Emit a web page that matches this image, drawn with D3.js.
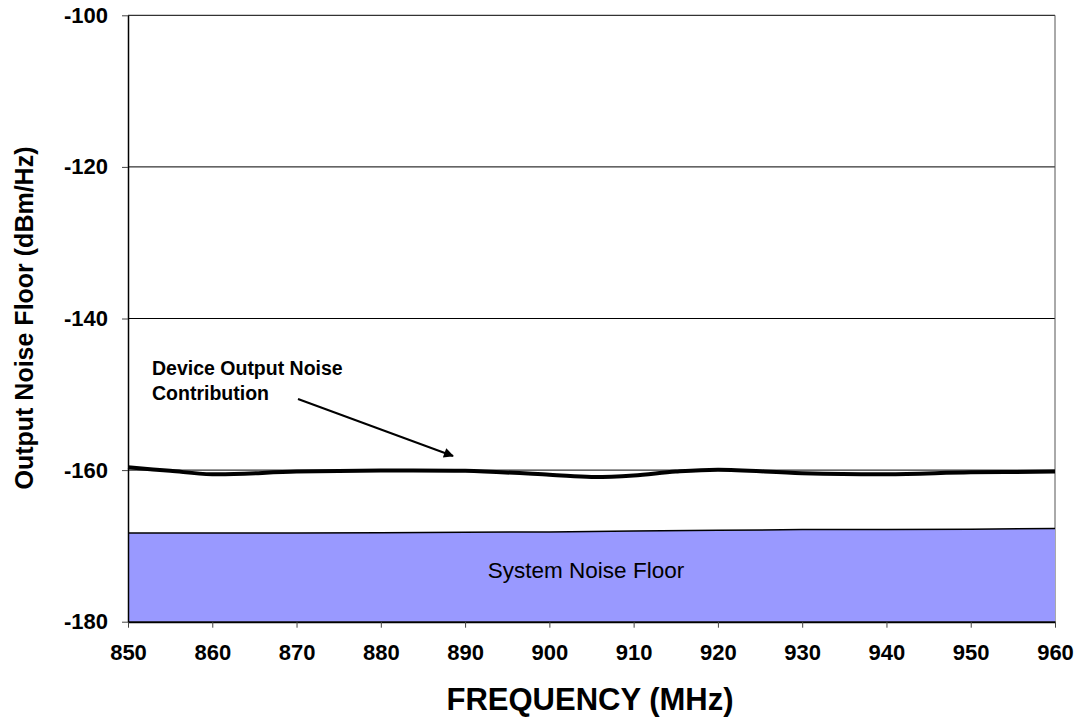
<!DOCTYPE html>
<html><head><meta charset="utf-8">
<script src="https://cdn.jsdelivr.net/npm/d3@7"></script>
<style>
body{margin:0;background:#fff;}
svg{font-family:"Liberation Sans",Arial,sans-serif;}
</style></head>
<body><svg id="c" width="1076" height="717"></svg>
<script>
const freqs = [850,855,860,870,880,890,900,905,910,915,920,930,940,950,960];
const deviceNoise = [-159.63,-160.1,-160.55,-160.2,-160.05,-160.1,-160.6,-160.9,-160.7,-160.2,-159.95,-160.4,-160.55,-160.3,-160.2];
const sysFreqs = [850,860,870,880,890,900,910,920,930,940,950,960];
const systemFloor = [-168.3,-168.3,-168.3,-168.25,-168.2,-168.15,-168.05,-167.95,-167.85,-167.85,-167.8,-167.7];
const xTicks = [850,860,870,880,890,900,910,920,930,940,950,960];
const yTicks = [-100,-120,-140,-160,-180];

const svg = d3.select("#c");
const L=128, R=1055, T=15.3, B=621.7;
const x = d3.scaleLinear().domain([850,960]).range([L,R]);
const y = d3.scaleLinear().domain([-180,-100]).range([B,T]);
const FF = "Liberation Sans, Arial, sans-serif";

// gridlines
svg.append("g").selectAll("line").data(yTicks.filter(d=>d>-180)).join("line")
  .attr("x1",L).attr("x2",R).attr("y1",d=>y(d)).attr("y2",d=>y(d))
  .attr("stroke","#000").attr("stroke-width",1);

// right border
svg.append("line").attr("x1",R).attr("x2",R).attr("y1",T).attr("y2",B)
  .attr("stroke","#555").attr("stroke-width",1);

// system noise floor area
const sys = sysFreqs.map((f,i)=>({f,v:systemFloor[i]}));
svg.append("path").datum(sys)
  .attr("d",d3.area().x(d=>x(d.f)).y0(y(-180)).y1(d=>y(d.v)))
  .attr("fill","#9999ff");
svg.append("path").datum(sys)
  .attr("d",d3.line().x(d=>x(d.f)).y(d=>y(d.v)))
  .attr("fill","none").attr("stroke","#000").attr("stroke-width",1.5);

// device line
const dev = freqs.map((f,i)=>({f,v:deviceNoise[i]}));
svg.append("path").datum(dev)
  .attr("d",d3.line().x(d=>x(d.f)).y(d=>y(d.v)).curve(d3.curveCatmullRom.alpha(0.5)))
  .attr("fill","none").attr("stroke","#000").attr("stroke-width",4);

// axes
const xAxis = svg.append("g").attr("transform",`translate(0,${B})`)
  .call(d3.axisBottom(x).tickValues(xTicks).tickFormat(d=>String(d)).tickSize(6).tickPadding(17).tickSizeOuter(0));
xAxis.select(".domain").attr("stroke","#000").attr("stroke-width",2);
xAxis.selectAll("text").attr("font-size",22).attr("font-weight","bold").attr("font-family",FF).attr("fill","#000");
xAxis.selectAll(".tick line").attr("stroke","#444");

const yAxis = svg.append("g").attr("transform",`translate(${L},0)`)
  .call(d3.axisLeft(y).tickValues(yTicks).tickFormat(d=>String(d)).tickSize(6).tickPadding(14).tickSizeOuter(0));
yAxis.select(".domain").attr("stroke","#000").attr("stroke-width",1.5);
yAxis.selectAll("text").attr("font-size",22).attr("font-weight","bold").attr("font-family",FF).attr("fill","#000");
yAxis.selectAll(".tick line").attr("stroke","#444");

// titles
svg.append("text").attr("x",590).attr("y",710).attr("text-anchor","middle")
  .attr("font-size",31).attr("font-weight","bold").text("FREQUENCY (MHz)");
svg.append("text").attr("transform","translate(33,318) rotate(-90)").attr("text-anchor","middle")
  .attr("font-size",25).attr("font-weight","bold").text("Output Noise Floor (dBm/Hz)");

// annotations
svg.append("text").attr("x",586).attr("y",578).attr("text-anchor","middle")
  .attr("font-size",22.5).text("System Noise Floor");
svg.append("text").attr("x",152).attr("y",375).attr("font-size",19.5).attr("font-weight","bold").text("Device Output Noise");
svg.append("text").attr("x",152).attr("y",400).attr("font-size",19.5).attr("font-weight","bold").text("Contribution");

svg.append("defs").append("marker").attr("id","ah").attr("viewBox","0 0 10 10")
  .attr("refX",9).attr("refY",5).attr("markerWidth",7).attr("markerHeight",5)
  .attr("markerUnits","strokeWidth").attr("orient","auto")
  .append("path").attr("d","M0,0 L10,5 L0,10 Z").attr("fill","#000");
svg.append("line").attr("x1",298).attr("y1",399).attr("x2",453).attr("y2",456)
  .attr("stroke","#000").attr("stroke-width",2).attr("marker-end","url(#ah)");
</script></body></html>
